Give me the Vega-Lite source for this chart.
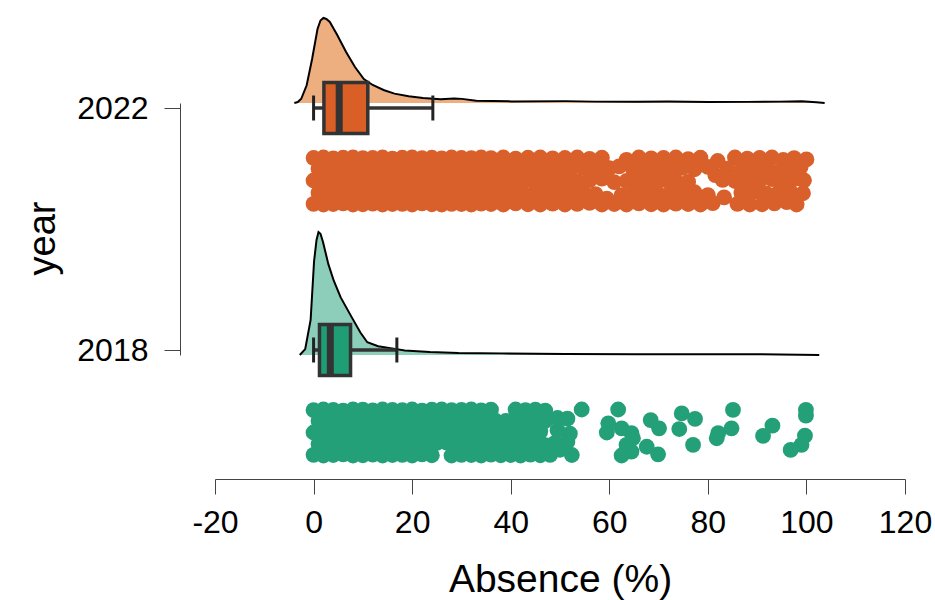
{
  "$schema": "https://vega.github.io/schema/vega-lite/v6.json",
  "width": 690,
  "height": 252,
  "autosize": {"type": "none"},
  "padding": {"left": 215, "top": 103, "right": 30, "bottom": 245},
  "background": "white",
  "config": {
    "view": {"stroke": null},
    "font": "Liberation Sans",
    "axis": {"grid": false, "domainColor": "#444", "tickColor": "#444", "labelColor": "black", "titleColor": "black", "titleFontWeight": "normal", "labelFont": "Liberation Sans", "titleFont": "Liberation Sans"}
  },
  "datasets": {
    "box": [
      {"year": 2022, "lower": 0, "q1": 2.1, "median": 5.2, "q3": 11.0, "upper": 24.2},
      {"year": 2018, "lower": 0, "q1": 1.2, "median": 3.4, "q3": 7.5, "upper": 16.9}
    ],
    "dens": [
      {"year": 2022, "absence": -3.9, "density": 0},
      {"year": 2022, "absence": -3.2, "density": 0.0008},
      {"year": 2022, "absence": -2.5, "density": 0.0034},
      {"year": 2022, "absence": -1.4, "density": 0.0142},
      {"year": 2022, "absence": -0.3, "density": 0.0352},
      {"year": 2022, "absence": 0.8, "density": 0.0592},
      {"year": 2022, "absence": 1.4, "density": 0.066},
      {"year": 2022, "absence": 2.0, "density": 0.068},
      {"year": 2022, "absence": 2.6, "density": 0.0672},
      {"year": 2022, "absence": 3.3, "density": 0.0648},
      {"year": 2022, "absence": 4.8, "density": 0.0544},
      {"year": 2022, "absence": 6.6, "density": 0.0408},
      {"year": 2022, "absence": 8.4, "density": 0.0288},
      {"year": 2022, "absence": 10.2, "density": 0.0192},
      {"year": 2022, "absence": 12.0, "density": 0.0144},
      {"year": 2022, "absence": 14.2, "density": 0.0104},
      {"year": 2022, "absence": 16.4, "density": 0.0075},
      {"year": 2022, "absence": 19.3, "density": 0.0054},
      {"year": 2022, "absence": 22.2, "density": 0.004},
      {"year": 2022, "absence": 25.8, "density": 0.003},
      {"year": 2022, "absence": 28.5, "density": 0.0036},
      {"year": 2022, "absence": 30.1, "density": 0.0033},
      {"year": 2022, "absence": 33.0, "density": 0.0018},
      {"year": 2022, "absence": 40.2, "density": 0.0013},
      {"year": 2022, "absence": 51.1, "density": 0.0015},
      {"year": 2022, "absence": 57.0, "density": 0.0011},
      {"year": 2022, "absence": 65.6, "density": 0.001},
      {"year": 2022, "absence": 72.0, "density": 0.0012},
      {"year": 2022, "absence": 80.1, "density": 0.0008},
      {"year": 2022, "absence": 88.0, "density": 0.0009},
      {"year": 2022, "absence": 94.6, "density": 0.0011},
      {"year": 2022, "absence": 99.0, "density": 0.0014},
      {"year": 2022, "absence": 102.0, "density": 0.0006},
      {"year": 2022, "absence": 103.7, "density": 0},
      {"year": 2018, "absence": -2.8, "density": 0},
      {"year": 2018, "absence": -1.7, "density": 0.0047},
      {"year": 2018, "absence": -0.6, "density": 0.028},
      {"year": 2018, "absence": 0.1, "density": 0.075},
      {"year": 2018, "absence": 0.6, "density": 0.092},
      {"year": 2018, "absence": 1.0, "density": 0.0984},
      {"year": 2018, "absence": 1.4, "density": 0.097},
      {"year": 2018, "absence": 1.9, "density": 0.0906},
      {"year": 2018, "absence": 3.0, "density": 0.0727},
      {"year": 2018, "absence": 4.1, "density": 0.0594},
      {"year": 2018, "absence": 5.5, "density": 0.0461},
      {"year": 2018, "absence": 7.7, "density": 0.0305},
      {"year": 2018, "absence": 9.5, "density": 0.018},
      {"year": 2018, "absence": 10.9, "density": 0.0102},
      {"year": 2018, "absence": 13.1, "density": 0.007},
      {"year": 2018, "absence": 15.6, "density": 0.0055},
      {"year": 2018, "absence": 18.5, "density": 0.0036},
      {"year": 2018, "absence": 23.6, "density": 0.0024},
      {"year": 2018, "absence": 29.4, "density": 0.0016},
      {"year": 2018, "absence": 38.1, "density": 0.0013},
      {"year": 2018, "absence": 51.1, "density": 0.0008},
      {"year": 2018, "absence": 65.6, "density": 0.0006},
      {"year": 2018, "absence": 80.0, "density": 0.0006},
      {"year": 2018, "absence": 94.6, "density": 0.0005},
      {"year": 2018, "absence": 102.6, "density": 0}
    ],
    "pts": [
      {"year": 2022, "absence": 0, "jitter": 0.98}, {"year": 2022, "absence": 2, "jitter": 1}, {"year": 2022, "absence": 4, "jitter": 0.96}, {"year": 2022, "absence": 6, "jitter": 0.99}, {"year": 2022, "absence": 8, "jitter": 1}, {"year": 2022, "absence": 10, "jitter": 0.97}, {"year": 2022, "absence": 12, "jitter": 0.98}, {"year": 2022, "absence": 14, "jitter": 1}, {"year": 2022, "absence": 16, "jitter": 0.95}, {"year": 2022, "absence": 18, "jitter": 0.99}, {"year": 2022, "absence": 20, "jitter": 1}, {"year": 2022, "absence": 22, "jitter": 0.97}, {"year": 2022, "absence": 24, "jitter": 0.99}, {"year": 2022, "absence": 26, "jitter": 0.96}, {"year": 2022, "absence": 28, "jitter": 1}, {"year": 2022, "absence": 30, "jitter": 0.98}, {"year": 2022, "absence": 32, "jitter": 0.97}, {"year": 2022, "absence": 34, "jitter": 1},
      {"year": 2022, "absence": 1, "jitter": 0.52}, {"year": 2022, "absence": 3, "jitter": 0.47}, {"year": 2022, "absence": 5, "jitter": 0.5}, {"year": 2022, "absence": 7, "jitter": 0.55}, {"year": 2022, "absence": 9, "jitter": 0.46}, {"year": 2022, "absence": 11, "jitter": 0.5}, {"year": 2022, "absence": 13, "jitter": 0.53}, {"year": 2022, "absence": 15, "jitter": 0.48}, {"year": 2022, "absence": 17, "jitter": 0.51}, {"year": 2022, "absence": 19, "jitter": 0.45}, {"year": 2022, "absence": 21, "jitter": 0.5}, {"year": 2022, "absence": 23, "jitter": 0.54}, {"year": 2022, "absence": 25, "jitter": 0.49}, {"year": 2022, "absence": 27, "jitter": 0.47}, {"year": 2022, "absence": 29, "jitter": 0.52}, {"year": 2022, "absence": 31, "jitter": 0.5}, {"year": 2022, "absence": 33, "jitter": 0.46}, {"year": 2022, "absence": 35, "jitter": 0.53},
      {"year": 2022, "absence": 0, "jitter": 0.02}, {"year": 2022, "absence": 2, "jitter": -0.03}, {"year": 2022, "absence": 4, "jitter": 0}, {"year": 2022, "absence": 6, "jitter": 0.04}, {"year": 2022, "absence": 8, "jitter": -0.02}, {"year": 2022, "absence": 10, "jitter": 0.01}, {"year": 2022, "absence": 12, "jitter": -0.04}, {"year": 2022, "absence": 14, "jitter": 0.03}, {"year": 2022, "absence": 16, "jitter": 0}, {"year": 2022, "absence": 18, "jitter": -0.01}, {"year": 2022, "absence": 20, "jitter": 0.05}, {"year": 2022, "absence": 22, "jitter": -0.03}, {"year": 2022, "absence": 24, "jitter": 0.02}, {"year": 2022, "absence": 26, "jitter": 0}, {"year": 2022, "absence": 28, "jitter": -0.05}, {"year": 2022, "absence": 30, "jitter": 0.03}, {"year": 2022, "absence": 32, "jitter": 0.01}, {"year": 2022, "absence": 34, "jitter": -0.02},
      {"year": 2022, "absence": 1, "jitter": -0.5}, {"year": 2022, "absence": 3, "jitter": -0.54}, {"year": 2022, "absence": 5, "jitter": -0.47}, {"year": 2022, "absence": 7, "jitter": -0.52}, {"year": 2022, "absence": 9, "jitter": -0.49}, {"year": 2022, "absence": 11, "jitter": -0.55}, {"year": 2022, "absence": 13, "jitter": -0.46}, {"year": 2022, "absence": 15, "jitter": -0.5}, {"year": 2022, "absence": 17, "jitter": -0.53}, {"year": 2022, "absence": 19, "jitter": -0.48}, {"year": 2022, "absence": 21, "jitter": -0.51}, {"year": 2022, "absence": 23, "jitter": -0.45}, {"year": 2022, "absence": 25, "jitter": -0.52}, {"year": 2022, "absence": 27, "jitter": -0.5}, {"year": 2022, "absence": 29, "jitter": -0.54}, {"year": 2022, "absence": 31, "jitter": -0.47}, {"year": 2022, "absence": 33, "jitter": -0.5}, {"year": 2022, "absence": 35, "jitter": -0.52},
      {"year": 2022, "absence": 0, "jitter": -0.97}, {"year": 2022, "absence": 2, "jitter": -1}, {"year": 2022, "absence": 4, "jitter": -0.98}, {"year": 2022, "absence": 6, "jitter": -0.95}, {"year": 2022, "absence": 8, "jitter": -1}, {"year": 2022, "absence": 10, "jitter": -0.99}, {"year": 2022, "absence": 12, "jitter": -0.96}, {"year": 2022, "absence": 14, "jitter": -1}, {"year": 2022, "absence": 16, "jitter": -0.98}, {"year": 2022, "absence": 18, "jitter": -0.97}, {"year": 2022, "absence": 20, "jitter": -1}, {"year": 2022, "absence": 22, "jitter": -0.95}, {"year": 2022, "absence": 24, "jitter": -0.99}, {"year": 2022, "absence": 26, "jitter": -1}, {"year": 2022, "absence": 28, "jitter": -0.97}, {"year": 2022, "absence": 30, "jitter": -0.98}, {"year": 2022, "absence": 32, "jitter": -1}, {"year": 2022, "absence": 34, "jitter": -0.96},
      {"year": 2022, "absence": 36, "jitter": 0.97}, {"year": 2022, "absence": 38.5, "jitter": 1}, {"year": 2022, "absence": 41, "jitter": 0.95}, {"year": 2022, "absence": 43.5, "jitter": 0.99}, {"year": 2022, "absence": 46, "jitter": 1}, {"year": 2022, "absence": 48.5, "jitter": 0.96}, {"year": 2022, "absence": 51, "jitter": 0.98}, {"year": 2022, "absence": 53.5, "jitter": 1}, {"year": 2022, "absence": 56, "jitter": 0.94}, {"year": 2022, "absence": 58.5, "jitter": 0.99}, {"year": 2022, "absence": 63.5, "jitter": 0.9}, {"year": 2022, "absence": 66, "jitter": 1}, {"year": 2022, "absence": 68.5, "jitter": 0.96}, {"year": 2022, "absence": 71, "jitter": 0.98}, {"year": 2022, "absence": 73.5, "jitter": 1}, {"year": 2022, "absence": 76, "jitter": 0.93}, {"year": 2022, "absence": 78.5, "jitter": 0.99}, {"year": 2022, "absence": 82, "jitter": 0.85}, {"year": 2022, "absence": 85.5, "jitter": 1}, {"year": 2022, "absence": 88, "jitter": 0.95}, {"year": 2022, "absence": 90.5, "jitter": 0.98}, {"year": 2022, "absence": 93, "jitter": 1}, {"year": 2022, "absence": 95.3, "jitter": 0.9}, {"year": 2022, "absence": 97.5, "jitter": 0.97}, {"year": 2022, "absence": 100, "jitter": 0.92},
      {"year": 2022, "absence": 37.2, "jitter": 0.5}, {"year": 2022, "absence": 39.7, "jitter": 0.46}, {"year": 2022, "absence": 42.2, "jitter": 0.54}, {"year": 2022, "absence": 44.7, "jitter": 0.48}, {"year": 2022, "absence": 47.2, "jitter": 0.52}, {"year": 2022, "absence": 49.7, "jitter": 0.45}, {"year": 2022, "absence": 52.2, "jitter": 0.5}, {"year": 2022, "absence": 54.7, "jitter": 0.55}, {"year": 2022, "absence": 57.2, "jitter": 0.47}, {"year": 2022, "absence": 60, "jitter": 0.55}, {"year": 2022, "absence": 62, "jitter": 0.62}, {"year": 2022, "absence": 64.8, "jitter": 0.5}, {"year": 2022, "absence": 67.3, "jitter": 0.44}, {"year": 2022, "absence": 69.8, "jitter": 0.53}, {"year": 2022, "absence": 72.3, "jitter": 0.48}, {"year": 2022, "absence": 74.8, "jitter": 0.56}, {"year": 2022, "absence": 77.3, "jitter": 0.5}, {"year": 2022, "absence": 80, "jitter": 0.6}, {"year": 2022, "absence": 84, "jitter": 0.52}, {"year": 2022, "absence": 86.8, "jitter": 0.47}, {"year": 2022, "absence": 89.3, "jitter": 0.5}, {"year": 2022, "absence": 91.8, "jitter": 0.55}, {"year": 2022, "absence": 94.2, "jitter": 0.4}, {"year": 2022, "absence": 96.5, "jitter": 0.45}, {"year": 2022, "absence": 98.8, "jitter": 0.58},
      {"year": 2022, "absence": 36, "jitter": 0.03}, {"year": 2022, "absence": 38.5, "jitter": -0.02}, {"year": 2022, "absence": 41, "jitter": 0}, {"year": 2022, "absence": 43.5, "jitter": 0.05}, {"year": 2022, "absence": 46, "jitter": -0.04}, {"year": 2022, "absence": 48.5, "jitter": 0.02}, {"year": 2022, "absence": 51, "jitter": 0}, {"year": 2022, "absence": 53.5, "jitter": -0.03}, {"year": 2022, "absence": 56, "jitter": 0.04}, {"year": 2022, "absence": 58.5, "jitter": 0.1}, {"year": 2022, "absence": 61, "jitter": -0.05}, {"year": 2022, "absence": 63.5, "jitter": 0}, {"year": 2022, "absence": 66, "jitter": 0.03}, {"year": 2022, "absence": 68.5, "jitter": -0.02}, {"year": 2022, "absence": 71, "jitter": 0.06}, {"year": 2022, "absence": 73.5, "jitter": 0}, {"year": 2022, "absence": 76, "jitter": -0.04}, {"year": 2022, "absence": 81.5, "jitter": 0.25}, {"year": 2022, "absence": 83, "jitter": 0.05}, {"year": 2022, "absence": 85.5, "jitter": 0}, {"year": 2022, "absence": 88, "jitter": -0.03}, {"year": 2022, "absence": 90.5, "jitter": 0.02}, {"year": 2022, "absence": 93, "jitter": 0.08}, {"year": 2022, "absence": 95.5, "jitter": -0.02}, {"year": 2022, "absence": 97.8, "jitter": 0.1}, {"year": 2022, "absence": 99.5, "jitter": 0.03},
      {"year": 2022, "absence": 37.2, "jitter": -0.5}, {"year": 2022, "absence": 39.7, "jitter": -0.55}, {"year": 2022, "absence": 42.2, "jitter": -0.47}, {"year": 2022, "absence": 44.7, "jitter": -0.52}, {"year": 2022, "absence": 47.2, "jitter": -0.5}, {"year": 2022, "absence": 49.7, "jitter": -0.45}, {"year": 2022, "absence": 52.2, "jitter": -0.53}, {"year": 2022, "absence": 54.7, "jitter": -0.48}, {"year": 2022, "absence": 57.2, "jitter": -0.56}, {"year": 2022, "absence": 59.5, "jitter": -0.75}, {"year": 2022, "absence": 62.5, "jitter": -0.6}, {"year": 2022, "absence": 64.8, "jitter": -0.5}, {"year": 2022, "absence": 67.3, "jitter": -0.46}, {"year": 2022, "absence": 69.8, "jitter": -0.52}, {"year": 2022, "absence": 72.3, "jitter": -0.5}, {"year": 2022, "absence": 74.8, "jitter": -0.55}, {"year": 2022, "absence": 77.3, "jitter": -0.48}, {"year": 2022, "absence": 80, "jitter": -0.6}, {"year": 2022, "absence": 83.3, "jitter": -0.7}, {"year": 2022, "absence": 86.8, "jitter": -0.5}, {"year": 2022, "absence": 89.3, "jitter": -0.45}, {"year": 2022, "absence": 91.8, "jitter": -0.53}, {"year": 2022, "absence": 94.3, "jitter": -0.5}, {"year": 2022, "absence": 96.8, "jitter": -0.47}, {"year": 2022, "absence": 99.3, "jitter": -0.52},
      {"year": 2022, "absence": 36, "jitter": -0.98}, {"year": 2022, "absence": 38.5, "jitter": -1}, {"year": 2022, "absence": 41, "jitter": -0.95}, {"year": 2022, "absence": 43.5, "jitter": -0.99}, {"year": 2022, "absence": 46, "jitter": -1}, {"year": 2022, "absence": 48.5, "jitter": -0.96}, {"year": 2022, "absence": 51, "jitter": -1}, {"year": 2022, "absence": 53.5, "jitter": -0.97}, {"year": 2022, "absence": 56, "jitter": -0.93}, {"year": 2022, "absence": 58.5, "jitter": -1}, {"year": 2022, "absence": 61, "jitter": -0.98}, {"year": 2022, "absence": 63.5, "jitter": -1}, {"year": 2022, "absence": 66, "jitter": -0.95}, {"year": 2022, "absence": 68.5, "jitter": -0.99}, {"year": 2022, "absence": 71, "jitter": -1}, {"year": 2022, "absence": 73.5, "jitter": -0.96}, {"year": 2022, "absence": 76, "jitter": -0.98}, {"year": 2022, "absence": 78.5, "jitter": -1}, {"year": 2022, "absence": 81, "jitter": -0.94}, {"year": 2022, "absence": 86, "jitter": -0.97}, {"year": 2022, "absence": 88.5, "jitter": -1}, {"year": 2022, "absence": 91, "jitter": -0.99}, {"year": 2022, "absence": 93.5, "jitter": -0.95}, {"year": 2022, "absence": 96, "jitter": -0.9}, {"year": 2022, "absence": 98, "jitter": -1},
      {"year": 2018, "absence": 0, "jitter": 0.97}, {"year": 2018, "absence": 2, "jitter": 1}, {"year": 2018, "absence": 4, "jitter": 0.98}, {"year": 2018, "absence": 6, "jitter": 0.95}, {"year": 2018, "absence": 8, "jitter": 1}, {"year": 2018, "absence": 10, "jitter": 0.99}, {"year": 2018, "absence": 12, "jitter": 0.96}, {"year": 2018, "absence": 14, "jitter": 1}, {"year": 2018, "absence": 16, "jitter": 0.98}, {"year": 2018, "absence": 18, "jitter": 0.97}, {"year": 2018, "absence": 20, "jitter": 1}, {"year": 2018, "absence": 22, "jitter": 0.95}, {"year": 2018, "absence": 24, "jitter": 0.99}, {"year": 2018, "absence": 26, "jitter": 1}, {"year": 2018, "absence": 28, "jitter": 0.97}, {"year": 2018, "absence": 30, "jitter": 0.98}, {"year": 2018, "absence": 32, "jitter": 1}, {"year": 2018, "absence": 34, "jitter": 0.96}, {"year": 2018, "absence": 36, "jitter": 0.99},
      {"year": 2018, "absence": 1, "jitter": 0.5}, {"year": 2018, "absence": 3, "jitter": 0.47}, {"year": 2018, "absence": 5, "jitter": 0.53}, {"year": 2018, "absence": 7, "jitter": 0.5}, {"year": 2018, "absence": 9, "jitter": 0.45}, {"year": 2018, "absence": 11, "jitter": 0.52}, {"year": 2018, "absence": 13, "jitter": 0.48}, {"year": 2018, "absence": 15, "jitter": 0.55}, {"year": 2018, "absence": 17, "jitter": 0.5}, {"year": 2018, "absence": 19, "jitter": 0.46}, {"year": 2018, "absence": 21, "jitter": 0.51}, {"year": 2018, "absence": 23, "jitter": 0.54}, {"year": 2018, "absence": 25, "jitter": 0.49}, {"year": 2018, "absence": 27, "jitter": 0.47}, {"year": 2018, "absence": 29, "jitter": 0.52}, {"year": 2018, "absence": 31, "jitter": 0.5}, {"year": 2018, "absence": 33, "jitter": 0.45}, {"year": 2018, "absence": 35, "jitter": 0.53}, {"year": 2018, "absence": 37, "jitter": 0.5},
      {"year": 2018, "absence": 0, "jitter": 0}, {"year": 2018, "absence": 2, "jitter": 0.03}, {"year": 2018, "absence": 4, "jitter": -0.02}, {"year": 2018, "absence": 6, "jitter": 0.04}, {"year": 2018, "absence": 8, "jitter": 0}, {"year": 2018, "absence": 10, "jitter": -0.03}, {"year": 2018, "absence": 12, "jitter": 0.02}, {"year": 2018, "absence": 14, "jitter": -0.05}, {"year": 2018, "absence": 16, "jitter": 0.01}, {"year": 2018, "absence": 18, "jitter": 0.03}, {"year": 2018, "absence": 20, "jitter": 0}, {"year": 2018, "absence": 22, "jitter": -0.02}, {"year": 2018, "absence": 24, "jitter": 0.04}, {"year": 2018, "absence": 26, "jitter": -0.01}, {"year": 2018, "absence": 28, "jitter": 0.02}, {"year": 2018, "absence": 30, "jitter": 0}, {"year": 2018, "absence": 32, "jitter": -0.04}, {"year": 2018, "absence": 34, "jitter": 0.03}, {"year": 2018, "absence": 36, "jitter": 0}, {"year": 2018, "absence": 38, "jitter": -0.02},
      {"year": 2018, "absence": 1, "jitter": -0.5}, {"year": 2018, "absence": 3, "jitter": -0.53}, {"year": 2018, "absence": 5, "jitter": -0.47}, {"year": 2018, "absence": 7, "jitter": -0.5}, {"year": 2018, "absence": 9, "jitter": -0.55}, {"year": 2018, "absence": 11, "jitter": -0.48}, {"year": 2018, "absence": 13, "jitter": -0.52}, {"year": 2018, "absence": 15, "jitter": -0.46}, {"year": 2018, "absence": 17, "jitter": -0.5}, {"year": 2018, "absence": 19, "jitter": -0.54}, {"year": 2018, "absence": 21, "jitter": -0.49}, {"year": 2018, "absence": 23, "jitter": -0.51}, {"year": 2018, "absence": 25, "jitter": -0.45}, {"year": 2018, "absence": 27, "jitter": -0.44}, {"year": 2018, "absence": 29, "jitter": -0.47}, {"year": 2018, "absence": 31, "jitter": -0.5}, {"year": 2018, "absence": 33, "jitter": -0.53}, {"year": 2018, "absence": 35, "jitter": -0.48}, {"year": 2018, "absence": 37, "jitter": -0.5},
      {"year": 2018, "absence": 0, "jitter": -0.97}, {"year": 2018, "absence": 2, "jitter": -1}, {"year": 2018, "absence": 4, "jitter": -0.98}, {"year": 2018, "absence": 6, "jitter": -0.95}, {"year": 2018, "absence": 8, "jitter": -1}, {"year": 2018, "absence": 10, "jitter": -0.99}, {"year": 2018, "absence": 12, "jitter": -0.96}, {"year": 2018, "absence": 14, "jitter": -1}, {"year": 2018, "absence": 16, "jitter": -0.98}, {"year": 2018, "absence": 18, "jitter": -0.97}, {"year": 2018, "absence": 20, "jitter": -1}, {"year": 2018, "absence": 22, "jitter": -0.95}, {"year": 2018, "absence": 24, "jitter": -0.99}, {"year": 2018, "absence": 28, "jitter": -1}, {"year": 2018, "absence": 30, "jitter": -0.97}, {"year": 2018, "absence": 32, "jitter": -0.98}, {"year": 2018, "absence": 34, "jitter": -1}, {"year": 2018, "absence": 36, "jitter": -0.96}, {"year": 2018, "absence": 38, "jitter": -0.99},
      {"year": 2018, "absence": 41, "jitter": 1}, {"year": 2018, "absence": 43, "jitter": 0.97}, {"year": 2018, "absence": 45, "jitter": 0.99}, {"year": 2018, "absence": 47, "jitter": 0.95},
      {"year": 2018, "absence": 49.5, "jitter": 0.63}, {"year": 2018, "absence": 51.5, "jitter": 0.6},
      {"year": 2018, "absence": 39, "jitter": 0.5}, {"year": 2018, "absence": 41, "jitter": 0.47}, {"year": 2018, "absence": 43, "jitter": 0.52}, {"year": 2018, "absence": 45, "jitter": 0.45}, {"year": 2018, "absence": 47, "jitter": 0.5},
      {"year": 2018, "absence": 40, "jitter": 0.02}, {"year": 2018, "absence": 42, "jitter": -0.03}, {"year": 2018, "absence": 44, "jitter": 0}, {"year": 2018, "absence": 46, "jitter": 0.04}, {"year": 2018, "absence": 49.5, "jitter": 0.1}, {"year": 2018, "absence": 52, "jitter": -0.05},
      {"year": 2018, "absence": 39, "jitter": -0.5}, {"year": 2018, "absence": 41, "jitter": -0.53}, {"year": 2018, "absence": 43, "jitter": -0.47}, {"year": 2018, "absence": 45, "jitter": -0.5}, {"year": 2018, "absence": 47, "jitter": -0.55}, {"year": 2018, "absence": 49, "jitter": -0.45}, {"year": 2018, "absence": 51.5, "jitter": -0.4},
      {"year": 2018, "absence": 40, "jitter": -0.98}, {"year": 2018, "absence": 42, "jitter": -1}, {"year": 2018, "absence": 44, "jitter": -0.96}, {"year": 2018, "absence": 46, "jitter": -0.99}, {"year": 2018, "absence": 48, "jitter": -0.97}, {"year": 2018, "absence": 50, "jitter": -0.75},
      {"year": 2018, "absence": 52.4, "jitter": -0.98}, {"year": 2018, "absence": 54.4, "jitter": 1}, {"year": 2018, "absence": 61.8, "jitter": 1}, {"year": 2018, "absence": 59.8, "jitter": 0.4}, {"year": 2018, "absence": 59.5, "jitter": 0}, {"year": 2018, "absence": 62.5, "jitter": 0.18}, {"year": 2018, "absence": 64.5, "jitter": -0.03}, {"year": 2018, "absence": 63.5, "jitter": -0.54}, {"year": 2018, "absence": 62.5, "jitter": -1}, {"year": 2018, "absence": 64.8, "jitter": -0.25}, {"year": 2018, "absence": 64.5, "jitter": -0.83}, {"year": 2018, "absence": 67.6, "jitter": -0.62}, {"year": 2018, "absence": 69.9, "jitter": -0.95}, {"year": 2018, "absence": 68.4, "jitter": 0.54}, {"year": 2018, "absence": 70.1, "jitter": 0.18}, {"year": 2018, "absence": 74.7, "jitter": 0.83}, {"year": 2018, "absence": 77.4, "jitter": 0.59}, {"year": 2018, "absence": 74.2, "jitter": 0.15}, {"year": 2018, "absence": 77.0, "jitter": -0.54}, {"year": 2018, "absence": 85.1, "jitter": 0.98}, {"year": 2018, "absence": 84.8, "jitter": 0.18}, {"year": 2018, "absence": 82.1, "jitter": -0.03}, {"year": 2018, "absence": 81.8, "jitter": -0.25}, {"year": 2018, "absence": 93.1, "jitter": 0.3}, {"year": 2018, "absence": 91.2, "jitter": -0.15}, {"year": 2018, "absence": 99.9, "jitter": 0.98}, {"year": 2018, "absence": 99.9, "jitter": 0.73}, {"year": 2018, "absence": 99.7, "jitter": -0.14}, {"year": 2018, "absence": 99.0, "jitter": -0.54}, {"year": 2018, "absence": 96.8, "jitter": -0.76}
    ]
  },
  "resolve": {"scale": {"y": "independent"}, "axis": {"x": "shared"}},
  "layer": [
    {
      "data": {"name": "dens"},
      "transform": [{"filter": "datum.year == 2022"}],
      "mark": {"type": "area", "orient": "vertical", "color": "#EDAF80", "opacity": 1, "line": {"color": "black", "strokeWidth": 2}},
      "encoding": {
        "x": {"field": "absence", "type": "quantitative", "scale": {"domain": [-20, 120], "nice": false},
          "axis": {"orient": "bottom", "values": [-20, 0, 20, 40, 60, 80, 100, 120], "labelExpr": "'' + datum.value", "offset": 124, "tickSize": 15, "labelFontSize": 32, "labelPadding": 13, "labelFlush": false, "labelOverlap": false, "title": "Absence (%)", "titleFontSize": 39, "titlePadding": 22}},
        "y": {"field": "density", "type": "quantitative", "stack": null, "scale": {"domain": [-0.2016, 0], "nice": false, "zero": false}, "axis": null},
        "y2": {"datum": 0}
      }
    },
    {
      "data": {"name": "dens"},
      "transform": [{"filter": "datum.year == 2018"}],
      "mark": {"type": "area", "orient": "vertical", "color": "#8DCEBB", "opacity": 1, "line": {"color": "black", "strokeWidth": 2}},
      "encoding": {
        "x": {"field": "absence", "type": "quantitative",
          "axis": {"orient": "bottom", "values": [-20, 0, 20, 40, 60, 80, 100, 120], "labelExpr": "'' + datum.value", "offset": 124, "tickSize": 15, "labelFontSize": 32, "labelPadding": 13, "labelFlush": false, "labelOverlap": false, "title": "Absence (%)", "titleFontSize": 39, "titlePadding": 22}},
        "y": {"field": "density", "type": "quantitative", "stack": null, "scale": {"domain": [0, 0.2016], "nice": false, "zero": false}, "axis": null},
        "y2": {"datum": 0}
      }
    },
    {
      "data": {"name": "box"},
      "encoding": {
        "y": {"field": "year", "type": "quantitative", "scale": {"domain": [2018, 2022], "nice": false, "zero": false},
          "axis": {"values": [2018, 2022], "format": "d", "offset": 35, "tickSize": 16, "labelFontSize": 32, "labelPadding": 16, "title": "year", "titleFontSize": 38, "titlePadding": 14, "titleY": 135}}
      },
      "layer": [
        {
          "mark": {"type": "rule", "color": "#333333", "strokeWidth": 3.5, "opacity": 1},
          "encoding": {
            "x": {"field": "lower", "type": "quantitative",
              "axis": {"orient": "bottom", "values": [-20, 0, 20, 40, 60, 80, 100, 120], "labelExpr": "'' + datum.value", "offset": 124, "tickSize": 15, "labelFontSize": 32, "labelPadding": 13, "labelFlush": false, "labelOverlap": false, "title": "Absence (%)", "titleFontSize": 39, "titlePadding": 22}},
            "x2": {"field": "upper"}
          }
        },
        {
          "mark": {"type": "bar", "orient": "horizontal", "size": 51, "stroke": "#333333", "strokeWidth": 3.5, "opacity": 1},
          "encoding": {
            "x": {"field": "q1", "type": "quantitative",
              "axis": {"orient": "bottom", "values": [-20, 0, 20, 40, 60, 80, 100, 120], "labelExpr": "'' + datum.value", "offset": 124, "tickSize": 15, "labelFontSize": 32, "labelPadding": 13, "labelFlush": false, "labelOverlap": false, "title": "Absence (%)", "titleFontSize": 39, "titlePadding": 22}},
            "x2": {"field": "q3"},
            "color": {"field": "year", "type": "nominal", "scale": {"domain": [2018, 2022], "range": ["#1F9E76", "#D95F26"]}, "legend": null}
          }
        },
        {
          "mark": {"type": "tick", "orient": "vertical", "size": 51, "thickness": 7, "color": "#333333", "opacity": 1},
          "encoding": {"x": {"field": "median", "type": "quantitative",
              "axis": {"orient": "bottom", "values": [-20, 0, 20, 40, 60, 80, 100, 120], "labelExpr": "'' + datum.value", "offset": 124, "tickSize": 15, "labelFontSize": 32, "labelPadding": 13, "labelFlush": false, "labelOverlap": false, "title": "Absence (%)", "titleFontSize": 39, "titlePadding": 22}}}
        },
        {
          "mark": {"type": "tick", "orient": "vertical", "size": 25, "thickness": 3, "color": "#222222", "opacity": 1},
          "encoding": {"x": {"field": "lower", "type": "quantitative",
              "axis": {"orient": "bottom", "values": [-20, 0, 20, 40, 60, 80, 100, 120], "labelExpr": "'' + datum.value", "offset": 124, "tickSize": 15, "labelFontSize": 32, "labelPadding": 13, "labelFlush": false, "labelOverlap": false, "title": "Absence (%)", "titleFontSize": 39, "titlePadding": 22}}}
        },
        {
          "mark": {"type": "tick", "orient": "vertical", "size": 25, "thickness": 3, "color": "#222222", "opacity": 1},
          "encoding": {"x": {"field": "upper", "type": "quantitative",
              "axis": {"orient": "bottom", "values": [-20, 0, 20, 40, 60, 80, 100, 120], "labelExpr": "'' + datum.value", "offset": 124, "tickSize": 15, "labelFontSize": 32, "labelPadding": 13, "labelFlush": false, "labelOverlap": false, "title": "Absence (%)", "titleFontSize": 39, "titlePadding": 22}}}
        }
      ]
    },
    {
      "data": {"name": "pts"},
      "transform": [{"filter": "datum.year == 2022"}],
      "mark": {"type": "circle", "size": 250, "opacity": 1, "color": "#D9602A"},
      "encoding": {
        "x": {"field": "absence", "type": "quantitative",
          "axis": {"orient": "bottom", "values": [-20, 0, 20, 40, 60, 80, 100, 120], "labelExpr": "'' + datum.value", "offset": 124, "tickSize": 15, "labelFontSize": 32, "labelPadding": 13, "labelFlush": false, "labelOverlap": false, "title": "Absence (%)", "titleFontSize": 39, "titlePadding": 22}},
        "y": {"field": "jitter", "type": "quantitative", "scale": {"domain": [-7.404, 3.319], "nice": false, "zero": false}, "axis": null}
      }
    },
    {
      "data": {"name": "pts"},
      "transform": [{"filter": "datum.year == 2018"}],
      "mark": {"type": "circle", "size": 250, "opacity": 1, "color": "#23A077"},
      "encoding": {
        "x": {"field": "absence", "type": "quantitative",
          "axis": {"orient": "bottom", "values": [-20, 0, 20, 40, 60, 80, 100, 120], "labelExpr": "'' + datum.value", "offset": 124, "tickSize": 15, "labelFontSize": 32, "labelPadding": 13, "labelFlush": false, "labelOverlap": false, "title": "Absence (%)", "titleFontSize": 39, "titlePadding": 22}},
        "y": {"field": "jitter", "type": "quantitative", "scale": {"domain": [3.369, 14.326], "nice": false, "zero": false}, "axis": null}
      }
    }
  ]
}
